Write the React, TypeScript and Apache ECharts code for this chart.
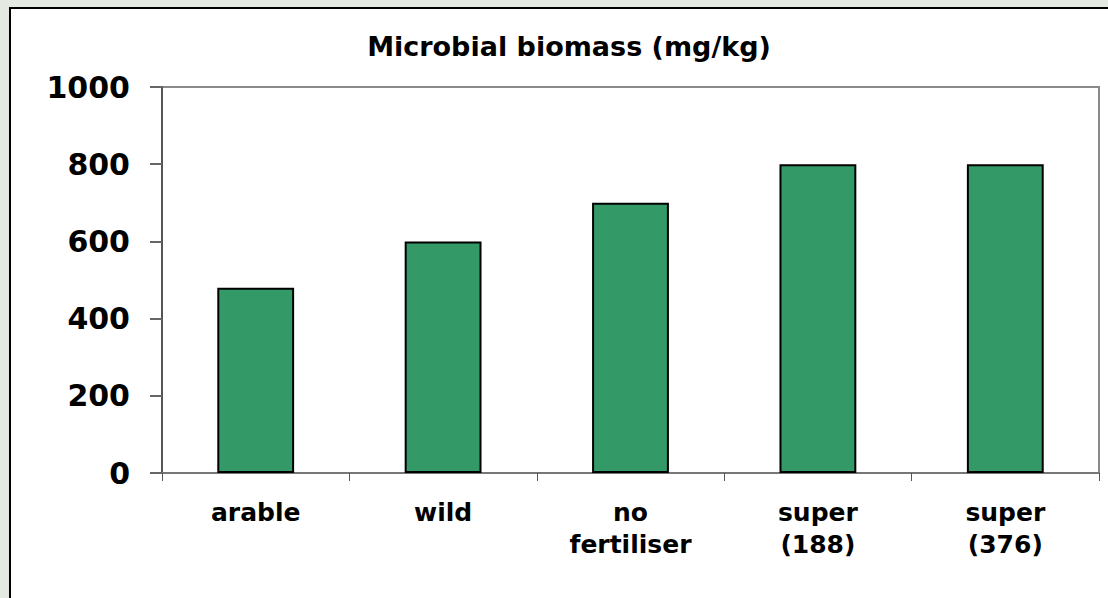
import React, { useEffect, useRef } from "react";
import * as echarts from "echarts";

const categories = ["arable", "wild", "no\nfertiliser", "super\n(188)", "super\n(376)"];
const biomass = [480, 600, 700, 800, 800];
const yTicks = { min: 0, max: 1000, interval: 200 };
const titleText = "Microbial biomass (mg/kg)";

const FONT = '"DejaVu Sans", "Liberation Sans", Arial, sans-serif';

export default function App() {
  const ref = useRef<HTMLDivElement>(null);
  useEffect(() => {
    if (!ref.current) return;
    const chart = echarts.init(ref.current, null, { renderer: "svg" });
    chart.setOption({
      animation: false,
      backgroundColor: "#e4eae1",
      title: {
        text: titleText,
        left: 564,
        top: 28,
        textAlign: "center",
        textStyle: { fontFamily: FONT, fontWeight: "bold", fontSize: 27, color: "#000" },
      },
      graphic: [
        {
          type: "rect",
          z: -100,
          shape: { x: 10, y: 8, width: 1200, height: 700 },
          style: { fill: "#ffffff", stroke: "#000000", lineWidth: 2 },
        },
      ],
      grid: {
        left: 162,
        top: 87,
        right: 9,
        bottom: 125,
        show: true,
        backgroundColor: "transparent",
        borderColor: "#8a8a8a",
        borderWidth: 2,
      },
      xAxis: {
        type: "category",
        data: categories,
        boundaryGap: true,
        axisLine: { show: true, lineStyle: { color: "#777", width: 2 } },
        axisTick: { show: true, length: 8, alignWithLabel: false, lineStyle: { color: "#555", width: 1 } },
        axisLabel: {
          interval: 0,
          margin: 23,
          fontFamily: FONT,
          fontWeight: "bold",
          fontSize: 25,
          lineHeight: 32,
          color: "#000",
        },
        splitLine: { show: false },
      },
      yAxis: {
        type: "value",
        min: yTicks.min,
        max: yTicks.max,
        interval: yTicks.interval,
        axisLine: { show: true, lineStyle: { color: "#555", width: 2 } },
        axisTick: { show: true, length: 12, lineStyle: { color: "#666", width: 2 } },
        axisLabel: {
          margin: 32,
          formatter: (v: number) => String(v),
          fontFamily: FONT,
          fontWeight: "bold",
          fontSize: 30,
          color: "#000",
        },
        splitLine: { show: false },
      },
      series: [
        {
          type: "bar",
          data: biomass,
          barWidth: "41%",
          itemStyle: { color: "#339966", borderColor: "#000", borderWidth: 2 },
        },
      ],
    });
    return () => chart.dispose();
  }, []);
  return (
    <div
      ref={ref}
      style={{ position: "fixed", left: 0, top: 0, width: 1108, height: 598 }}
    />
  );
}
